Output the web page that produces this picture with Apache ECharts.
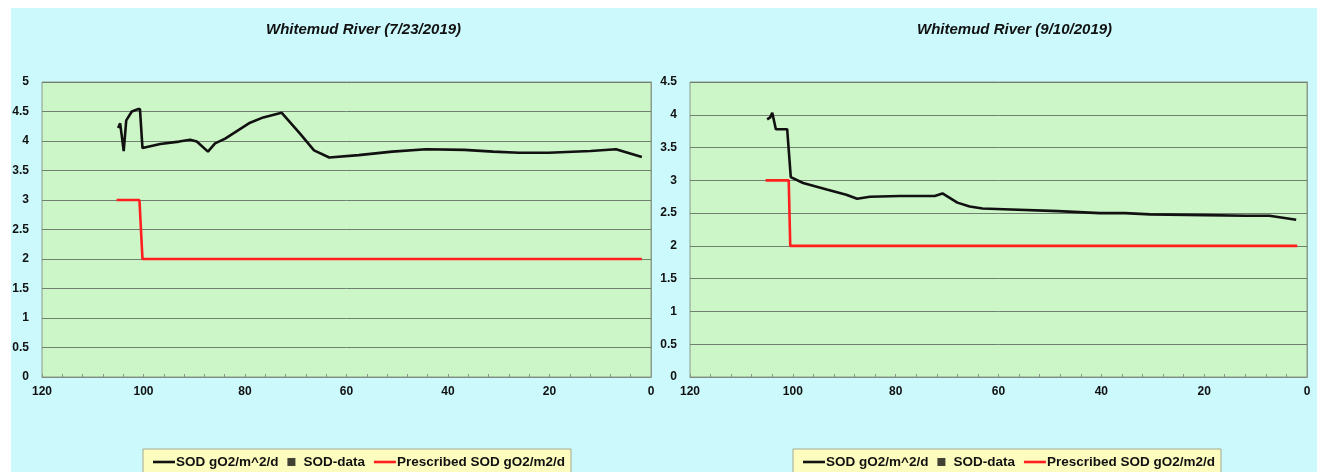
<!DOCTYPE html>
<html>
<head>
<meta charset="utf-8">
<script src="https://cdn.jsdelivr.net/npm/echarts@6/dist/echarts.min.js"></script>
<style>
  html, body { margin: 0; padding: 0; background: #ffffff; }
  #chart { width: 1317px; height: 472px; }
</style>
</head>
<body>
<div id="chart"></div>
<script>
// River distance (km) and sediment oxygen demand, two survey dates
const titles = ['Whitemud River (7/23/2019)', 'Whitemud River (9/10/2019)'];
const legendNames = ['SOD gO2/m^2/d', 'SOD-data', 'Prescribed SOD gO2/m2/d'];
const xTicks = [0, 20, 40, 60, 80, 100, 120];

// 7/23/2019 : modelled SOD along the river [km, gO2/m^2/d]
const sodJuly = [
  [105.0, 4.22], [104.6, 4.30], [104.3, 4.10], [103.9, 3.83], [103.4, 4.35],
  [102.3, 4.50], [101.1, 4.54], [100.7, 4.54], [100.2, 3.88], [96.7, 3.95],
  [93.0, 3.99], [90.8, 4.02], [89.5, 3.99], [87.3, 3.82], [85.9, 3.96],
  [83.9, 4.04], [82.3, 4.13], [79.0, 4.31], [76.4, 4.40], [72.8, 4.48],
  [69.2, 4.13], [66.4, 3.84], [63.4, 3.72], [57.6, 3.76], [51.0, 3.82],
  [44.3, 3.86], [36.8, 3.85], [31.1, 3.82], [26.0, 3.80], [20.2, 3.80],
  [11.9, 3.83], [6.9, 3.86], [1.8, 3.73]
];
const prescribedJuly = [[105.3, 3], [100.8, 3], [100.2, 2], [1.8, 2]];

// 9/10/2019 : modelled SOD along the river [km, gO2/m^2/d]
const sodSept = [
  [105.0, 3.93], [104.4, 3.96], [104.0, 4.03], [103.3, 3.78], [101.1, 3.78],
  [100.4, 3.05], [98.0, 2.96], [93.4, 2.86], [89.6, 2.78], [87.5, 2.72],
  [85.0, 2.75], [79.2, 2.76], [72.4, 2.76], [70.9, 2.80], [68.0, 2.66],
  [65.6, 2.60], [63.1, 2.57], [59.0, 2.56], [48.4, 2.53], [40.3, 2.50],
  [35.4, 2.50], [30.5, 2.48], [19.9, 2.47], [11.8, 2.46], [7.3, 2.46],
  [2.1, 2.40]
];
const prescribedSept = [[105.3, 3], [100.8, 3], [100.5, 2], [1.9, 2]];

// observed SOD samples (none on these dates)
const sodDataJuly = [];
const sodDataSept = [];

const yMax = [5, 4.5];

const FONT = '"Liberation Sans", Arial, sans-serif';
const gridPos = [
  { left: 42, top: 82, width: 609, height: 295 },
  { left: 690, top: 82, width: 617, height: 295 }
];
const titleLeft = [266, 917];
const legendLeft = [143, 793];

// legend glyphs: a short bar for the lines, a small square for the samples
const LINE_ICON = 'path://M0,0h22v2.6h-22z';
const SQUARE_ICON = 'path://M0,0h8v8h-8z';

function xAxisFor(i) {
  return {
    gridIndex: i, type: 'value', min: 0, max: 120, interval: 20, inverse: true,
    axisLine: { show: true, onZero: false, lineStyle: { color: '#7f8c7f', width: 1 } },
    axisTick: { show: true, inside: true, length: 3, lineStyle: { color: '#8a948a' } },
    minorTick: { show: true, splitNumber: 5, length: 3, lineStyle: { color: '#8a948a' } },
    splitLine: { show: false },
    axisLabel: {
      margin: 9, color: '#111', fontFamily: FONT, fontWeight: 'bold', fontSize: 12,
      formatter: v => xTicks.includes(v) ? String(v) : ''
    }
  };
}
function yAxisFor(i) {
  return {
    gridIndex: i, type: 'value', min: 0, max: yMax[i], interval: 0.5,
    axisLine: { show: true, lineStyle: { color: '#8c9a8c' } },
    axisTick: { show: false },
    splitLine: { show: true, lineStyle: { color: '#6f806f', width: 1 } },
    axisLabel: { margin: 13, color: '#111', fontFamily: FONT, fontWeight: 'bold', fontSize: 12 }
  };
}
function seriesFor(i, sod, sodData, prescribed) {
  return [
    { name: legendNames[0], type: 'line', xAxisIndex: i, yAxisIndex: i, data: sod,
      symbol: 'none', lineStyle: { color: '#111', width: 2.6 }, itemStyle: { color: '#111' },
      z: 3, animation: false },
    { name: legendNames[1], type: 'scatter', xAxisIndex: i, yAxisIndex: i, data: sodData,
      symbol: 'rect', symbolSize: 8, itemStyle: { color: '#111' }, animation: false },
    { name: legendNames[2], type: 'line', xAxisIndex: i, yAxisIndex: i, data: prescribed,
      symbol: 'none', lineStyle: { color: '#ff1f1f', width: 2.6 }, itemStyle: { color: '#ff1f1f' },
      z: 2, animation: false }
  ];
}
function legendFor(i) {
  return {
    left: legendLeft[i], top: 449, orient: 'horizontal',
    data: legendNames.map(n => ({ name: n, icon: n === 'SOD-data' ? SQUARE_ICON : LINE_ICON })),
    itemWidth: 22, itemHeight: 8, itemGap: 9,
    symbolKeepAspect: true,
    padding: [6, 6, 6, 10],
    backgroundColor: '#fdfcbf', borderColor: '#a8a890', borderWidth: 1,
    selectedMode: false,
    textStyle: { color: '#111', fontFamily: FONT, fontWeight: 'bold', fontSize: 13.5, padding: [0, 0, 0, -4] }
  };
}

const chart = echarts.init(document.getElementById('chart'), null, { renderer: 'canvas' });
chart.setOption({
  backgroundColor: '#ffffff',
  animation: false,
  graphic: [
    { type: 'rect', left: 11, top: 8, z: -10, silent: true,
      shape: { width: 1306, height: 464 }, style: { fill: '#cbf9fc' } }
  ],
  title: titles.map((t, i) => ({
    text: t, left: titleLeft[i], top: 22, padding: 0,
    textStyle: { fontFamily: FONT, fontWeight: 'bold', fontStyle: 'italic', fontSize: 15, color: '#111' }
  })),
  legend: [legendFor(0), legendFor(1)],
  grid: gridPos.map(g => Object.assign({
    show: true, backgroundColor: '#cdf6c8', borderColor: '#8c9a8c', borderWidth: 1, containLabel: false
  }, g)),
  xAxis: [xAxisFor(0), xAxisFor(1)],
  yAxis: [yAxisFor(0), yAxisFor(1)],
  series: [].concat(
    seriesFor(0, sodJuly, sodDataJuly, prescribedJuly),
    seriesFor(1, sodSept, sodDataSept, prescribedSept)
  )
});
</script>
</body>
</html>
